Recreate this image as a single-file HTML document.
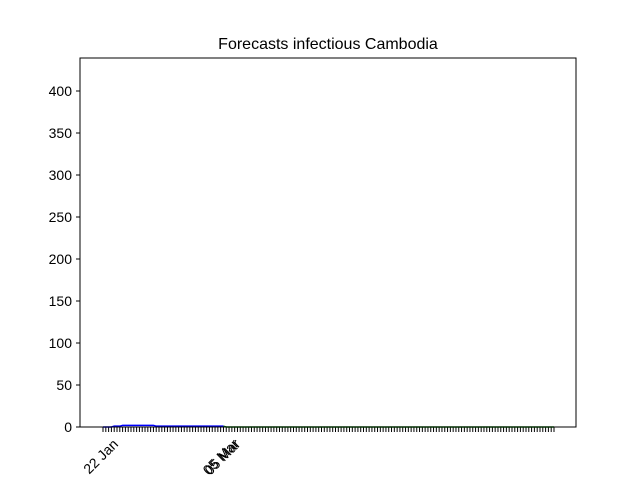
<!DOCTYPE html>
<html><head><meta charset="utf-8"><style>body{margin:0;background:#fff}svg text{font-family:"Liberation Sans","DejaVu Sans",sans-serif}</style></head>
<body>
<svg id="c" width="640" height="480" xmlns="http://www.w3.org/2000/svg">
<rect width="640" height="480" fill="#fff"/>
<text x="328" y="49" text-anchor="middle" font-size="16">Forecasts infectious Cambodia</text>
<g id="g"></g>
<rect x="80" y="58" width="496" height="369" fill="none" stroke="#000" stroke-width="1"/>
</svg>
<script>
const yTicks=[0,50,100,150,200,250,300,350,400];
const observed=[0,0,0,0,1,1,1,2,2,2,2,2,2,2,2,2,2,2,2,1,1,1,1,1,1,1,1,1,1,1,1,1,1,1,1,1,1,1,1,1,1,1,1,1];
const forecast=new Array(119).fill(0);
const dateLabels=[{i:0,t:"22 Jan"},{i:43,t:"05 Mar"},{i:43.6,t:"05 Mar"}];
const nDays=observed.length+forecast.length-1;
const x0=103,x1=554,yMin=0,yMax=439.3,pT=58,pB=427;
const X=i=>x0+(x1-x0)*i/(nDays-1);
const Y=v=>pB-(v-yMin)/(yMax-yMin)*(pB-pT);
const g=document.getElementById('g');const NS='http://www.w3.org/2000/svg';
function mk(t,a){const e=document.createElementNS(NS,t);for(const k in a)e.setAttribute(k,a[k]);g.appendChild(e);return e;}
yTicks.forEach(v=>{
 const l=mk('line',{x1:76,x2:80,y1:Y(v),y2:Y(v),stroke:'#000'});
 
 
 const t=mk('text',{x:72,y:Y(v)+5,'text-anchor':'end','font-size':14});t.textContent=v;
 
 
});
for(let i=0;i<nDays;i++){
 const l=mk('line',{x1:X(i),x2:X(i),y1:427,y2:432,stroke:'#000','stroke-width':1});
 
 
}
dateLabels.forEach(d=>{
 const t=mk('text',{x:0,y:0,'text-anchor':'end','font-size':14,transform:`translate(${X(d.i)+16},${445}) rotate(-45)`});t.textContent=d.t;
 
 
});
const off=observed.length-1;
const fp=[observed[off]].concat(forecast.slice(1)).map((v,i)=>X(i+off)+','+Y(v)).join(' ');
const f=mk('polyline',{points:fp,fill:'none',stroke:'green','stroke-width':1.5});


const op=observed.map((v,i)=>X(i)+','+Y(v)).join(' ');
const o=mk('polyline',{points:op,fill:'none',stroke:'blue','stroke-width':1.5});


</script>
</body></html>
